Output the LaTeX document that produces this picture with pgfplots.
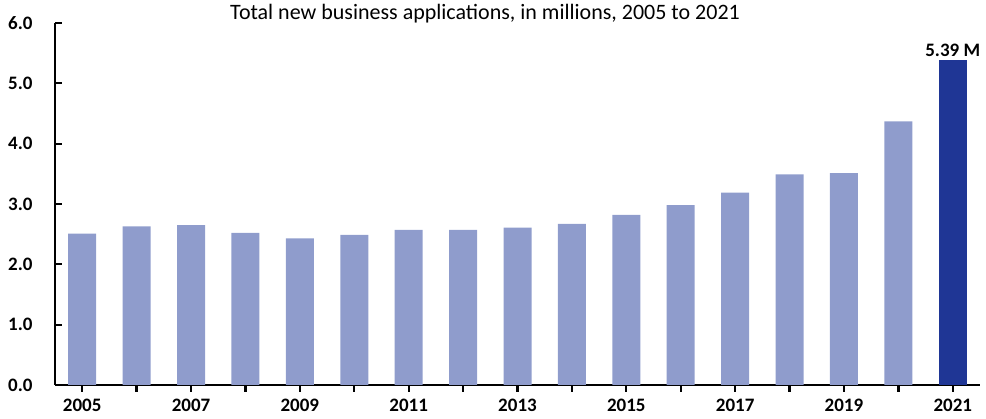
\documentclass[border=0pt]{standalone}
\usepackage{fontspec}
\setmainfont{Carlito}
\usepackage{pgfplots}
\pgfplotsset{compat=1.18}
\definecolor{lightbar}{HTML}{8F9CCC}
\definecolor{darkbar}{HTML}{1F3695}
\begin{document}
\begin{tikzpicture}
\useasboundingbox (0,0) rectangle (986pt,419pt);
\begin{axis}[
  at={(55pt,34pt)}, anchor=south west,
  scale only axis, width=925pt, height=362pt,
  xmin=-0.5, xmax=16.5, ymin=0, ymax=6,
  axis x line*=bottom, axis y line*=left,
  axis line style={-, line width=2.3pt, black},
  xtick={0,...,16},
  xticklabels={2005,{},2007,{},2009,{},2011,{},2013,{},2015,{},2017,{},2019,{},2021},
  ytick={0,1,...,6},
  tick align=outside,
  major tick length=7pt,
  tick style={line width=2.3pt, black},
  ytick style={xshift=7pt},
  xticklabel style={font=\fontsize{19}{22}\selectfont\bfseries, yshift=-4pt},
  yticklabel style={font=\fontsize{19}{22}\selectfont\bfseries, xshift=-12pt,
    /pgf/number format/.cd, fixed, fixed zerofill, precision=1},
  /pgf/number format/assume math mode=true,
  title={Total new business applications, in millions, 2005 to 2021},
  title style={font=\fontsize{22}{26}\selectfont, at={(0.465,1)}, anchor=base, yshift=-3pt},
  clip=false,
]
\addplot[ybar, bar shift=0pt, bar width=28pt, fill=lightbar, draw=none] coordinates {
(0,2.51) (1,2.63) (2,2.65) (3,2.52) (4,2.43) (5,2.49) (6,2.57) (7,2.57)
(8,2.61) (9,2.67) (10,2.82) (11,2.98) (12,3.19) (13,3.49) (14,3.51) (15,4.37)
};
\addplot[ybar, bar shift=0pt, bar width=28pt, fill=darkbar, draw=none,
  nodes near coords, point meta=explicit symbolic,
  nodes near coords style={font=\fontsize{19}{22}\selectfont\bfseries, anchor=south, black, inner sep=3pt}]
  coordinates {(16,5.39) [5.39 M]};
\end{axis}
\end{tikzpicture}
\end{document}
